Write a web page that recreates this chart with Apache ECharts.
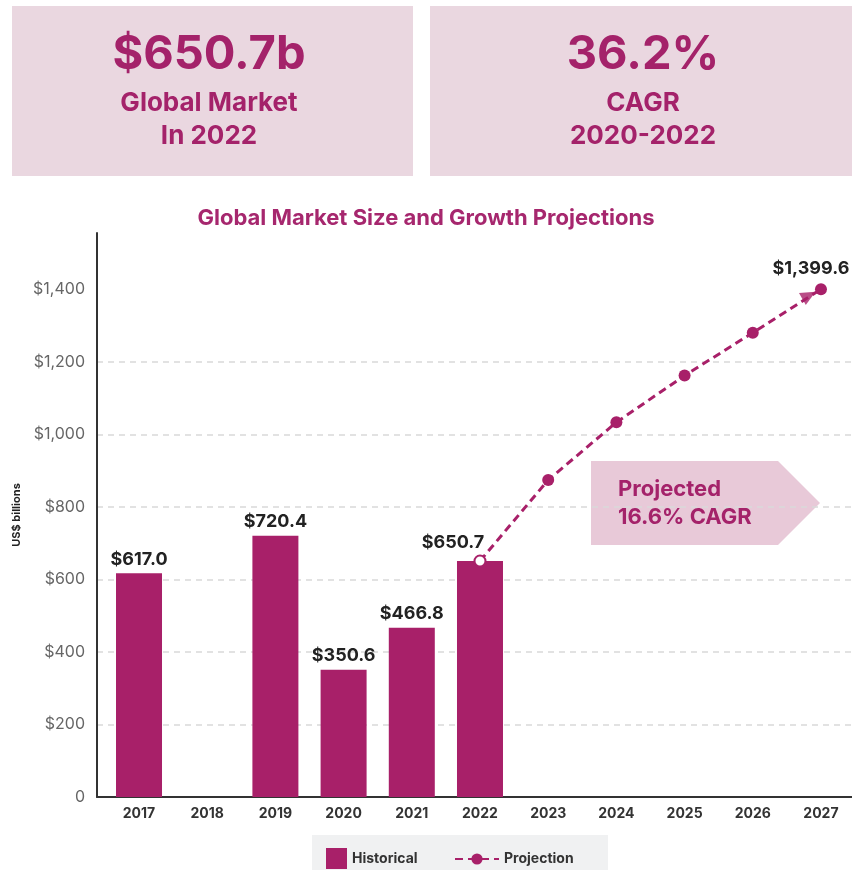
<!DOCTYPE html>
<html>
<head>
<meta charset="utf-8">
<title>Global Market Size and Growth Projections</title>
<script src="https://cdn.jsdelivr.net/npm/echarts@6.0.0/dist/echarts.min.js"></script>
<style>
    html, body { margin: 0; padding: 0; background: #fff; }
    #main { width: 852px; height: 870px; }
</style>
</head>
<body>
<div id="main"></div>
<script>
/*
市场规模图
历史柱状 + 预测虚线
*/
var histYears = [2017, 2019, 2020, 2021, 2022];
var histValues = [617.0, 720.4, 350.6, 466.8, 650.7];

var projYears = [2022, 2023, 2024, 2025, 2026, 2027];
var projValues = [650.7, 874, 1033, 1162, 1280, 1399.6];

var axisYears = [2017, 2018, 2019, 2020, 2021, 2022, 2023, 2024, 2025, 2026, 2027];
var yTicks = [0, 200, 400, 600, 800, 1000, 1200, 1400];

var magenta = '#A82069';
var textMagenta = '#A4226A';
var font = 'Inter';

function money(v) {
    return '$' + v.toLocaleString('en-US', { minimumFractionDigits: 1, maximumFractionDigits: 1 });
}

// 柱子数据
var barData = histYears.map(function(y, i) {
    var item = { value: [y, histValues[i]] };
    if (y === 2022) {
        // 2022 标签往左挪，给空心点让位
        item.label = { offset: [-27, -4] };
    }
    return item;
});

// 预测线数据
var lineData = projYears.map(function(y, i) {
    var item = { value: [y, projValues[i]] };
    if (i === 0) {
        item.symbolSize = 11;
        item.itemStyle = { color: '#fff', borderColor: magenta, borderWidth: 2 };
    }
    if (i === projYears.length - 1) {
        item.label = {
            show: true,
            position: 'top',
            distance: 6,
            offset: [-10, 0],
            formatter: function(p) { return money(p.value[1]); },
            fontFamily: font,
            fontWeight: 'bold',
            fontSize: 18,
            color: '#222'
        };
    }
    return item;
});

var myChart = echarts.init(document.getElementById('main'));

var option = {
    animation: false,
    backgroundColor: '#fff',
    title: {
        text: 'Global Market Size and Growth Projections',
        left: 'center',
        top: 202,
        textStyle: { fontFamily: font, fontWeight: 'bold', fontSize: 22, color: '#A6276E' }
    },
    legend: [{
        data: ['Historical'],
        left: 326,
        top: 848,
        padding: 0,
        icon: 'rect',
        itemWidth: 21,
        itemHeight: 21,
        textStyle: { fontFamily: font, fontWeight: 'bold', fontSize: 14, color: '#333' }
    }, {
        data: ['Projection'],
        left: 454,
        top: 852,
        padding: 0,
        itemWidth: 44,
        itemHeight: 14,
        textStyle: { fontFamily: font, fontWeight: 'bold', fontSize: 14, color: '#333' }
    }],
    grid: {
        left: 97,
        right: 0,
        top: 233,
        bottom: 73,
        containLabel: false
    },
    xAxis: {
        type: 'value',
        min: 2016.384,
        max: 2027.455,
        splitLine: { show: false },
        axisTick: { show: false },
        axisLine: { show: true, lineStyle: { color: '#333', width: 2 } },
        axisLabel: {
            customValues: axisYears,
            formatter: function(v) { return String(v); },
            fontFamily: font,
            fontWeight: 'bold',
            fontSize: 14,
            color: '#333',
            margin: 10
        }
    },
    yAxis: {
        type: 'value',
        min: 0,
        max: 1555,
        interval: 200,
        name: 'US$ billions',
        nameLocation: 'middle',
        nameGap: 70,
        nameTextStyle: { fontFamily: font, fontWeight: 'bold', fontSize: 11, color: '#222' },
        axisLine: { show: true, lineStyle: { color: '#333', width: 2 } },
        axisTick: { show: false, customValues: yTicks },
        axisLabel: {
            customValues: yTicks,
            formatter: function(v) { return v === 0 ? '0' : '$' + v.toLocaleString('en-US'); },
            fontFamily: font,
            fontSize: 16,
            color: '#666',
            margin: 12
        },
        splitLine: {
            show: true,
            showMaxLine: false,
            lineStyle: { color: '#D9D9D9', width: 1.5, type: [6, 5] }
        }
    },
    series: [{
        name: 'Historical',
        type: 'bar',
        barWidth: 46,
        data: barData,
        itemStyle: { color: magenta },
        label: {
            show: true,
            position: 'top',
            distance: 5,
            formatter: function(p) { return money(p.value[1]); },
            fontFamily: font,
            fontWeight: 'bold',
            fontSize: 18,
            color: '#222'
        }
    }, {
        name: 'Projection',
        type: 'line',
        data: lineData,
        symbol: 'circle',
        symbolSize: 12,
        itemStyle: { color: magenta },
        lineStyle: { color: magenta, width: 3, type: [8, 5] },
        z: 3
    }, {
        // 末端箭头
        name: 'arrow',
        type: 'scatter',
        data: [[2027, 1399.6]],
        symbol: 'triangle',
        symbolSize: [14, 15],
        symbolRotate: -61,
        symbolOffset: [-12, 6],
        itemStyle: { color: magenta },
        silent: true,
        z: 4
    }],
    graphic: [
        // 顶部两个指标框
        { type: 'rect', shape: { x: 12, y: 6, width: 401, height: 170 }, style: { fill: '#EAD7E0' }, z: -1 },
        { type: 'rect', shape: { x: 430, y: 6, width: 422, height: 170 }, style: { fill: '#EAD7E0' }, z: -1 },
        { type: 'text', x: 209, y: 55, style: { text: '$650.7b', fill: textMagenta, font: 'bold 47px Inter', textAlign: 'center', textVerticalAlign: 'middle' } },
        { type: 'text', x: 209, y: 103, style: { text: 'Global Market', fill: textMagenta, font: 'bold 26px Inter', textAlign: 'center', textVerticalAlign: 'middle' } },
        { type: 'text', x: 209, y: 136, style: { text: 'In 2022', fill: textMagenta, font: 'bold 26px Inter', textAlign: 'center', textVerticalAlign: 'middle' } },
        { type: 'text', x: 643, y: 55, style: { text: '36.2%', fill: textMagenta, font: 'bold 47px Inter', textAlign: 'center', textVerticalAlign: 'middle' } },
        { type: 'text', x: 643, y: 103, style: { text: 'CAGR', fill: textMagenta, font: 'bold 26px Inter', textAlign: 'center', textVerticalAlign: 'middle' } },
        { type: 'text', x: 643, y: 136, style: { text: '2020-2022', fill: textMagenta, font: 'bold 26px Inter', textAlign: 'center', textVerticalAlign: 'middle' } },
        // 预测 CAGR 箭头框
        { type: 'polygon', shape: { points: [[591, 461], [778, 461], [820, 503], [778, 545], [591, 545]] }, style: { fill: '#E8C9D8' }, z: 0 },
        { type: 'text', x: 618, y: 489, style: { text: 'Projected', fill: textMagenta, font: 'bold 22px Inter', textAlign: 'left', textVerticalAlign: 'middle' }, z: 1 },
        { type: 'text', x: 618, y: 517, style: { text: '16.6% CAGR', fill: textMagenta, font: 'bold 22px Inter', textAlign: 'left', textVerticalAlign: 'middle' }, z: 1 },
        // 图例底色
        { type: 'rect', shape: { x: 312, y: 835, width: 296, height: 40 }, style: { fill: '#F0F1F2' }, z: -1 }
    ]
};

myChart.setOption(option);
</script>
</body>
</html>
